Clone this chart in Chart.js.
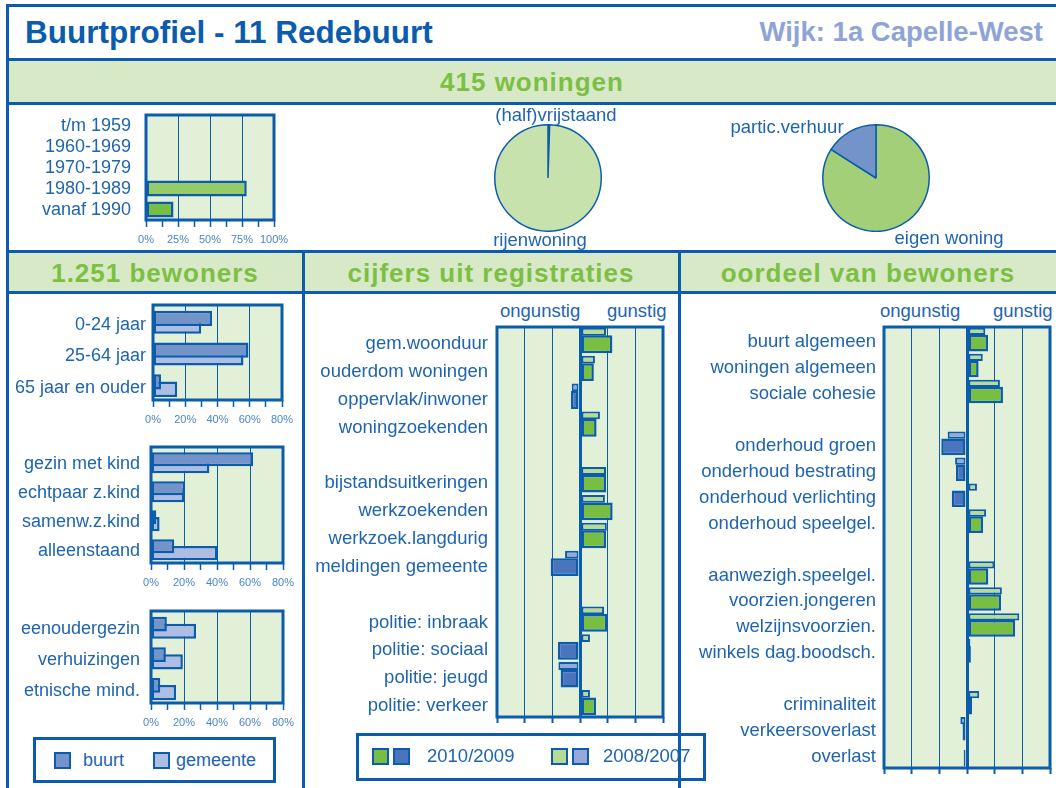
<!DOCTYPE html>
<html>
<head>
<meta charset="utf-8">
<script src="https://cdn.jsdelivr.net/npm/chart.js@4.4.1/dist/chart.umd.min.js"></script>
<style>
body { margin: 0; background: #fff; width: 1056px; height: 788px; overflow: hidden; position: relative; font-family: 'Liberation Sans', Arial, sans-serif; }
.abs { position: absolute; white-space: nowrap; }
.line { position: absolute; background: #0b5cad; }
.band { position: absolute; background: #d8e9c8; }
.head { position: absolute; color: #7cbf43; font-weight: bold; font-size: 26px; letter-spacing: 1px; text-align: center; white-space: nowrap; line-height: 36px; }
.lbl { position: absolute; color: #1e64af; font-size: 18.5px; white-space: nowrap; line-height: 22px; }
.box { position: absolute; }
.sw { position: absolute; width: 17px; height: 17px; box-sizing: border-box; border: 2.5px solid #0b5cad; }
.legend { position: absolute; box-sizing: border-box; border: 3px solid #0b5cad; }
</style>
</head>
<body>
<!-- frame -->
<div class="band" style="left:8px;top:61px;width:1048px;height:41px"></div>
<div class="band" style="left:8px;top:253px;width:1048px;height:38px"></div>
<div class="line" style="left:6px;top:4px;width:1050px;height:3px"></div>
<div class="line" style="left:6px;top:4px;width:3px;height:784px"></div>
<div class="line" style="left:6px;top:58px;width:1050px;height:3px"></div>
<div class="line" style="left:6px;top:102px;width:1050px;height:3px"></div>
<div class="line" style="left:6px;top:250px;width:1050px;height:3px"></div>
<div class="line" style="left:6px;top:291px;width:1050px;height:3px"></div>
<div class="line" style="left:302px;top:250px;width:3px;height:538px"></div>
<div class="line" style="left:678px;top:250px;width:3px;height:538px"></div>

<div class="abs" style="left:25px;top:13px;font-size:31.5px;font-weight:bold;color:#0b5cad;line-height:38px">Buurtprofiel - 11 Redebuurt</div>
<div class="abs" style="right:13px;top:14px;font-size:27.5px;font-weight:bold;color:#8ea4d6;line-height:36px">Wijk: 1a Capelle-West</div>
<div class="head" style="left:8px;width:1048px;top:64px">415 woningen</div>
<div class="head" style="left:8px;width:294px;top:255px">1.251 bewoners</div>
<div class="head" style="left:304px;width:374px;top:255px">cijfers uit registraties</div>
<div class="head" style="left:680px;width:376px;top:255px">oordeel van bewoners</div>

<!-- charts -->
<div class="box"><canvas id="cBouwjaar"></canvas></div>
<div class="box" style="left:494px;top:124px;width:108px;height:108px"><canvas id="cType"></canvas></div>
<div class="box" style="left:822px;top:124px;width:108px;height:108px"><canvas id="cEigendom"></canvas></div>
<div class="box"><canvas id="cLeeftijd"></canvas></div>
<div class="box"><canvas id="cHuishouden"></canvas></div>
<div class="box"><canvas id="cOverig"></canvas></div>
<div class="box"><canvas id="cRegistratie"></canvas></div>
<div class="box"><canvas id="cOordeel"></canvas></div>

<!-- pie labels -->
<div class="lbl" style="left:456px;width:200px;text-align:center;top:104px">(half)vrijstaand</div>
<div class="lbl" style="left:440px;width:200px;text-align:center;top:229px">rijenwoning</div>
<div class="lbl" style="left:687px;width:200px;text-align:center;top:116px">partic.verhuur</div>
<div class="lbl" style="left:849px;width:200px;text-align:center;top:227px">eigen woning</div>

<div class="lbl" style="left:500px;top:300px">ongunstig</div>
<div class="lbl" style="left:607px;top:300px">gunstig</div>
<div class="lbl" style="left:880px;top:300px">ongunstig</div>
<div class="lbl" style="left:993px;top:300px">gunstig</div>

<!-- legends -->
<div class="legend" style="left:33px;top:737px;width:243px;height:46px"></div>
<div class="sw" style="left:54px;top:752px;background:#7393c9"></div>
<div class="lbl" style="left:83px;top:749px;font-size:18px">buurt</div>
<div class="sw" style="left:153px;top:752px;background:#aebde2"></div>
<div class="lbl" style="left:176px;top:749px;font-size:18px">gemeente</div>

<div class="legend" style="left:356px;top:733px;width:350px;height:48px"></div>
<div class="sw" style="left:372px;top:748px;background:#78be43"></div>
<div class="sw" style="left:393px;top:748px;background:#4a74bc"></div>
<div class="lbl" style="left:427px;top:745px;font-size:18.5px">2010/2009</div>
<div class="sw" style="left:551px;top:748px;background:#b7db95"></div>
<div class="sw" style="left:572px;top:748px;background:#97a9d9"></div>
<div class="lbl" style="left:603px;top:745px;font-size:18.5px">2008/2007</div>

<script>
// bouwjaar woningen (% van woningen)
const bouwjaarLabels = ['t/m 1959', '1960-1969', '1970-1979', '1980-1989', 'vanaf 1990'];
const bouwjaarPct = [0, 0, 0, 78.7, 21.5];

// woningtype en eigendom
const typeLabels = ['(half)vrijstaand', 'rijenwoning'];
const typeValues = [0.5, 99.5];
const eigendomLabels = ['eigen woning', 'partic.verhuur'];
const eigendomValues = [84, 16];

// bewoners: buurt vs gemeente (%)
const leeftijdLabels = ['0-24 jaar', '25-64 jaar', '65 jaar en ouder'];
const leeftijdBuurt = [36.6, 59.2, 5];
const leeftijdGemeente = [29.9, 56.1, 15];

const huishoudenLabels = ['gezin met kind', 'echtpaar z.kind', 'samenw.z.kind', 'alleenstaand'];
const huishoudenBuurt = [61.9, 20.7, 3.2, 14.1];
const huishoudenGemeente = [35.4, 20.1, 5.2, 40.2];

const overigLabels = ['eenoudergezin', 'verhuizingen', 'etnische mind.'];
const overigBuurt = [9.6, 9, 5.6];
const overigGemeente = [27.3, 19.3, 15.2];

// cijfers uit registraties (afwijking, ongunstig < 0 < gunstig)
const registratieLabels = ['gem.woonduur', 'ouderdom woningen', 'oppervlak/inwoner', 'woningzoekenden', '',
  'bijstandsuitkeringen', 'werkzoekenden', 'werkzoek.langdurig', 'meldingen gemeente', '',
  'politie: inbraak', 'politie: sociaal', 'politie: jeugd', 'politie: verkeer'];
const registratie2010 = [1.17, 0.5, -0.33, 0.6, null, 0.94, 1.18, 0.94, -1.06, null, 0.99, -0.8, -0.7, 0.58];
const registratie2008 = [0.94, 0.54, -0.3, 0.72, null, 0.94, 0.9, 0.97, -0.54, null, 0.87, 0.36, -0.78, 0.36];

// oordeel van bewoners
const oordeelLabels = ['buurt algemeen', 'woningen algemeen', 'sociale cohesie', '',
  'onderhoud groen', 'onderhoud bestrating', 'onderhoud verlichting', 'onderhoud speelgel.', '',
  'aanwezigh.speelgel.', 'voorzien.jongeren', 'welzijnsvoorzien.', 'winkels dag.boodsch.', '',
  'criminaliteit', 'verkeersoverlast', 'overlast'];
const oordeel2010 = [0.76, 0.42, 1.3, null, -0.93, -0.4, -0.55, 0.58, null, 0.77, 1.23, 1.74, 0.14, null, 0.18, -0.16, -0.12];
const oordeel2008 = [0.66, 0.57, 1.19, null, -0.7, -0.43, 0.36, 0.69, null, 0.99, 1.26, 1.89, 0.12, null, 0.44, -0.24, -0.06];

const FONT = "'Liberation Sans', Arial, sans-serif";
const BLUE = '#0b5cad';
const LABEL = '#1e64af';
const TICKTXT = '#4a86c8';
const PLOT_BG = '#e3f0d8';
const BUURT = '#7393c9', GEMEENTE = '#aebde2';
const GREEN_DARK = '#78be43', GREEN_LIGHT = '#b7db95';
const BLUE_DARK = '#4a74bc', BLUE_LIGHT = '#97a9d9';

Chart.defaults.font.family = FONT;

const plotFrame = {
  id: 'plotFrame',
  beforeDraw(chart) {
    const a = chart.chartArea, ctx = chart.ctx;
    ctx.save();
    ctx.fillStyle = PLOT_BG;
    ctx.fillRect(a.left, a.top, a.right - a.left, a.bottom - a.top);
    ctx.restore();
  },
  afterDraw(chart) {
    const a = chart.chartArea, ctx = chart.ctx;
    ctx.save();
    ctx.strokeStyle = BLUE;
    ctx.lineWidth = 3;
    ctx.strokeRect(a.left, a.top, a.right - a.left, a.bottom - a.top);
    ctx.restore();
  }
};

// g: plot area in page pixels + room for labels / axis
function barChart(id, g, labels, datasets, xScale, labelPad, fontSize, labelShift) {
  const canvas = document.getElementById(id);
  const padT = 3;
  Object.assign(canvas.parentNode.style, {
    left: (g.x - g.labelW) + 'px',
    top: (g.y - padT) + 'px',
    width: (g.labelW + g.w + g.padR) + 'px',
    height: (padT + g.h + g.bottomH) + 'px'
  });
  return new Chart(canvas, {
    type: 'bar',
    data: { labels: labels, datasets: datasets },
    options: {
      indexAxis: 'y',
      responsive: true,
      maintainAspectRatio: false,
      animation: false,
      layout: { padding: { top: padT, right: g.padR, left: 0, bottom: 0 } },
      plugins: { legend: { display: false }, tooltip: { enabled: false } },
      scales: {
        x: Object.assign({
          position: 'bottom',
          border: { display: false },
          afterFit: s => { s.height = g.bottomH; s.paddingLeft = 0; s.paddingRight = 0; }
        }, xScale),
        y: {
          border: { display: false },
          grid: { display: false, drawTicks: false },
          ticks: { color: LABEL, padding: labelPad, labelOffset: labelShift, autoSkip: false, font: { size: fontSize } },
          afterFit: s => { s.width = g.labelW; s.paddingTop = 0; s.paddingBottom = 0; }
        }
      }
    },
    plugins: [plotFrame]
  });
}

function pctAxis(max, minor, major) {
  return {
    min: 0, max: max,
    ticks: {
      stepSize: minor, autoSkip: false, maxRotation: 0, padding: 6, color: TICKTXT,
      font: { size: 11 },
      callback: v => (v % major === 0 ? v + '%' : '')
    },
    grid: {
      color: ctx => (ctx.tick && ctx.tick.value % major === 0 ? BLUE : 'rgba(0,0,0,0)'),
      tickColor: BLUE, tickLength: 7, tickWidth: 1.5, lineWidth: 1
    }
  };
}

const scoreAxis = {
  min: -3, max: 3,
  ticks: { stepSize: 1, display: false },
  grid: {
    color: BLUE,
    lineWidth: ctx => (ctx.tick && ctx.tick.value === 0 ? 3 : 1),
    tickColor: BLUE, tickLength: 6, tickWidth: 2
  }
};

function pairDatasets(buurt, gemeente) {
  return [
    { label: 'buurt', data: buurt, backgroundColor: BUURT, borderColor: BLUE, borderWidth: 2.5,
      borderSkipped: false, categoryPercentage: 0.3, barPercentage: 3.2 },
    { label: 'gemeente', data: gemeente, backgroundColor: GEMEENTE, borderColor: BLUE, borderWidth: 2.5,
      borderSkipped: false, categoryPercentage: 0.64, barPercentage: 1.55 }
  ];
}

function scoreDatasets(recent, earlier) {
  return [
    { label: '2008/2007', data: earlier, borderColor: BLUE, borderWidth: 2, borderSkipped: false,
      backgroundColor: ctx => (ctx.raw >= 0 ? GREEN_LIGHT : BLUE_LIGHT),
      categoryPercentage: 1.32, barPercentage: 0.424 },
    { label: '2010/2009', data: recent, borderColor: BLUE, borderWidth: 2.5, borderSkipped: false,
      backgroundColor: ctx => (ctx.raw >= 0 ? GREEN_DARK : BLUE_DARK),
      categoryPercentage: 0.48, barPercentage: 2.67 }
  ];
}

// bouwjaar
barChart('cBouwjaar', { x: 146, y: 115, w: 128, h: 105, labelW: 136, bottomH: 30, padR: 16 },
  bouwjaarLabels,
  [{ data: bouwjaarPct, backgroundColor: ['#95cc68', '#95cc68', '#95cc68', '#95cc68', GREEN_DARK],
     borderColor: BLUE, borderWidth: 2.5, borderSkipped: false, categoryPercentage: 0.8, barPercentage: 0.95 }],
  pctAxis(100, 12.5, 25), 15, 18, 1);

// pies
const pieOpts = {
  responsive: true, maintainAspectRatio: false, animation: false,
  layout: { padding: 0 },
  plugins: { legend: { display: false }, tooltip: { enabled: false } }
};
new Chart(document.getElementById('cType'), {
  type: 'pie',
  data: { labels: typeLabels, datasets: [{ data: typeValues, backgroundColor: [BLUE, '#c8e2ae'], borderColor: BLUE, borderWidth: 1.5 }] },
  options: pieOpts
});
new Chart(document.getElementById('cEigendom'), {
  type: 'pie',
  data: { labels: eigendomLabels, datasets: [{ data: eigendomValues, backgroundColor: ['#a3cf78', BUURT], borderColor: BLUE, borderWidth: 1.5 }] },
  options: pieOpts
});

// bewoners
barChart('cLeeftijd', { x: 153, y: 305, w: 129, h: 95, labelW: 143, bottomH: 28, padR: 12 },
  leeftijdLabels, pairDatasets(leeftijdBuurt, leeftijdGemeente), pctAxis(80, 10, 20), 7, 18, 4);
barChart('cHuishouden', { x: 151, y: 447, w: 132, h: 116, labelW: 141, bottomH: 28, padR: 12 },
  huishoudenLabels, pairDatasets(huishoudenBuurt, huishoudenGemeente), pctAxis(80, 10, 20), 11, 18, 3);
barChart('cOverig', { x: 151, y: 611, w: 132, h: 92, labelW: 141, bottomH: 28, padR: 12 },
  overigLabels, pairDatasets(overigBuurt, overigGemeente), pctAxis(80, 10, 20), 11, 18, 3);

// registraties en oordeel
barChart('cRegistratie', { x: 497, y: 327, w: 166, h: 390, labelW: 187, bottomH: 12, padR: 8 },
  registratieLabels, scoreDatasets(registratie2010, registratie2008), scoreAxis, 9, 18.5, 3);
barChart('cOordeel', { x: 884, y: 327, w: 166, h: 441, labelW: 198, bottomH: 12, padR: 4 },
  oordeelLabels, scoreDatasets(oordeel2010, oordeel2008), scoreAxis, 8, 18.5, 2);
</script>
</body>
</html>
